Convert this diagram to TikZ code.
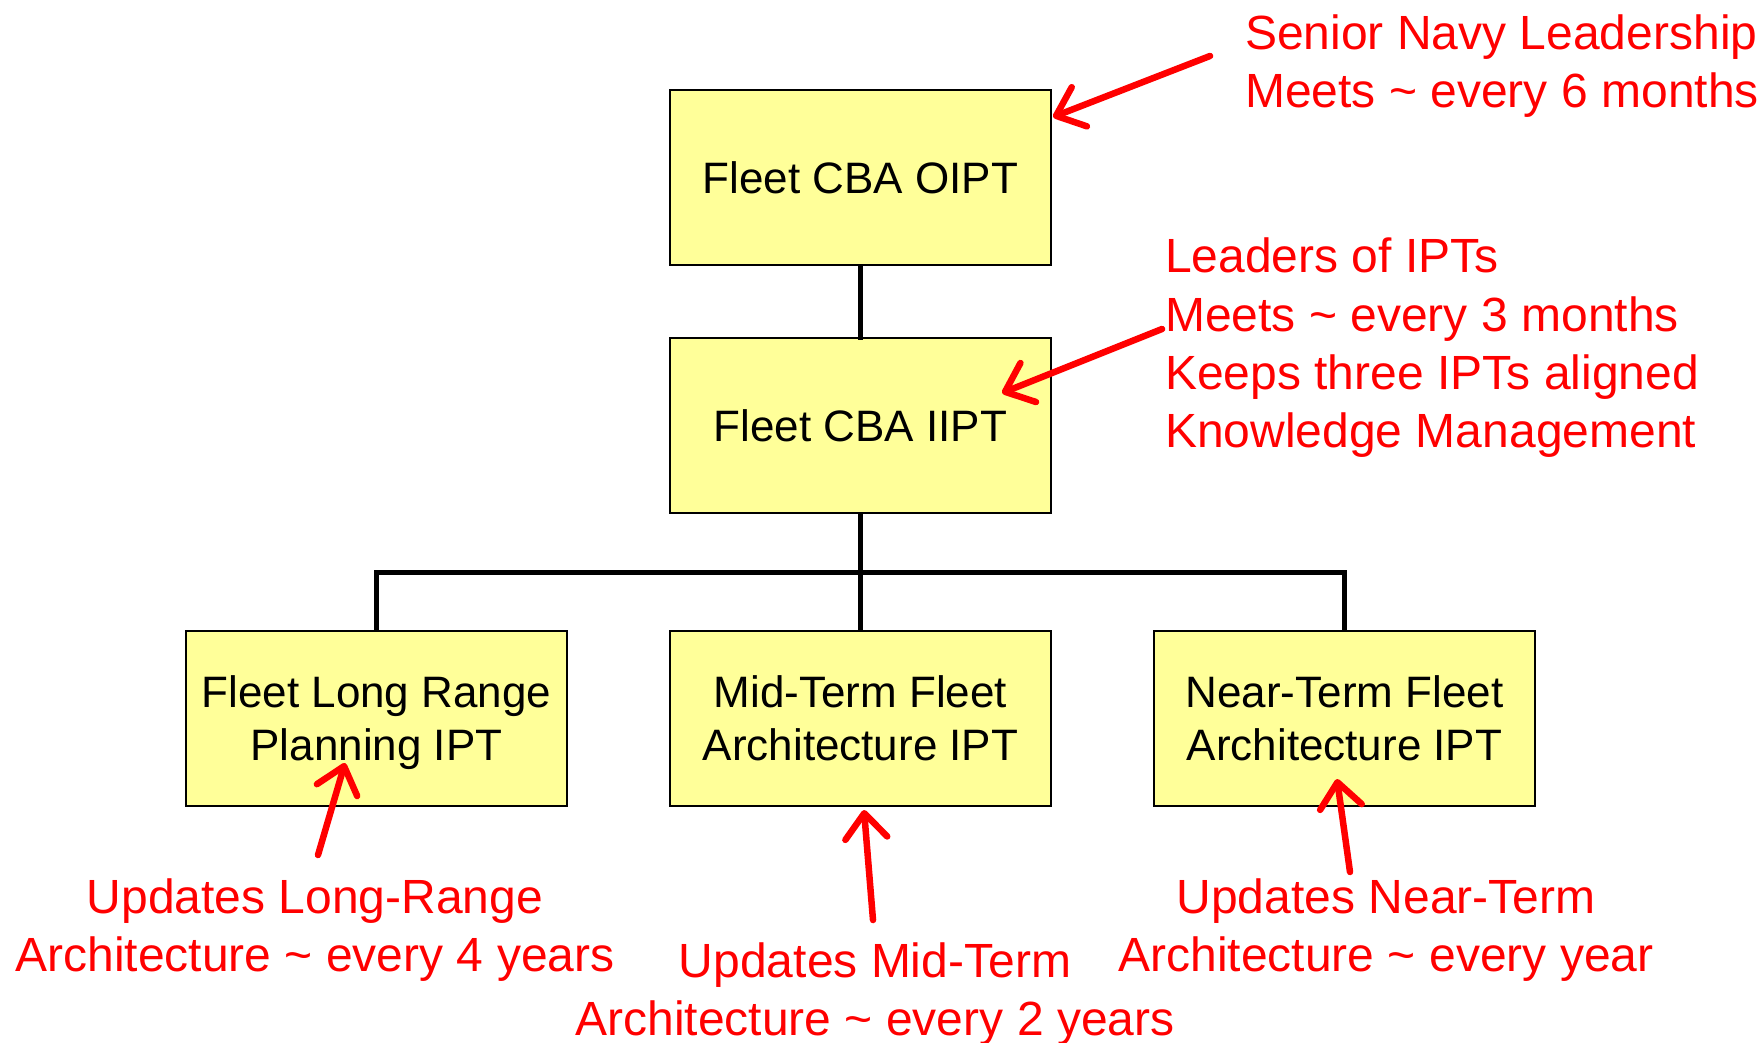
\documentclass[tikz,border=0pt]{standalone}
\usepackage{fontspec}
\setmainfont{Liberation Sans}
\usetikzlibrary{arrows.meta}
\definecolor{boxfill}{RGB}{255,255,153}
\tikzset{
  unitbox/.style={draw=black, line width=2pt, fill=boxfill, minimum width=381pt,
    minimum height=175pt, inner sep=0pt, align=center, text depth=0pt,
    font=\fontsize{44}{53}\selectfont},
  note/.style={text=red, inner sep=0pt, font=\fontsize{48}{58.3}\selectfont},
  link/.style={line width=5pt, line cap=rect},
  pointer/.style={draw=red, line width=6.5pt, line cap=round,
    -{Straight Barb[length=25pt,width=42pt,line cap=round,line join=round]}},
}
\begin{document}
\begin{tikzpicture}[x=1pt, y=-1pt]
\useasboundingbox (0,0) rectangle (1760,1043);

% org chart boxes
\node[unitbox] (oipt) at (860.5,177.5) {Fleet CBA OIPT};
\node[unitbox] (iipt) at (860.5,425.5) {Fleet CBA IIPT};
\node[unitbox] (lr) at (376.5,718) {Fleet Long Range\\Planning IPT};
\node[unitbox] (mt) at (860.5,718) {Mid-Term Fleet\\Architecture IPT};
\node[unitbox] (nt) at (1344.5,718) {Near-Term Fleet\\Architecture IPT};

% tree connectors
\coordinate (bus) at (860.5,572);
\draw[link] (oipt.south) -- (iipt.north);
\draw[link] (iipt.south) -- (mt.north);
\draw[link] (lr.north) |- (bus) -| (nt.north);

% annotations
\node[note, anchor=west, align=left] (n1) at (1245,66)
  {Senior Navy Leadership\\Meets \textasciitilde{} every 6 months};
\node[note, anchor=west, align=left] (n2) at (1165,348)
  {Leaders of IPTs\\Meets \textasciitilde{} every 3 months\\Keeps three IPTs aligned\\Knowledge Management};
\node[note, align=center] (n3) at (315,930)
  {Updates Long-Range\\Architecture \textasciitilde{} every 4 years};
\node[note, align=center] (n4) at (875,994)
  {Updates Mid-Term\\Architecture \textasciitilde{} every 2 years};
\node[note, align=center] (n5) at (1386,930)
  {Updates Near-Term\\Architecture \textasciitilde{} every year};

% pointer arrows
\coordinate (a1s) at (1210,56);  \coordinate (a1e) at (1053,117);
\coordinate (a2s) at (1162,329); \coordinate (a2e) at (1002,393);
\coordinate (a3s) at (318,855);  \coordinate (a3e) at (345,763);
\coordinate (a4s) at (873,920);  \coordinate (a4e) at (864,810);
\coordinate (a5s) at (1350,872); \coordinate (a5e) at (1337,779);
\draw[pointer] (a1s) -- (a1e);
\draw[pointer] (a2s) -- (a2e);
\draw[pointer] (a3s) -- (a3e);
\draw[pointer] (a4s) -- (a4e);
\draw[pointer] (a5s) -- (a5e);
\end{tikzpicture}
\end{document}
